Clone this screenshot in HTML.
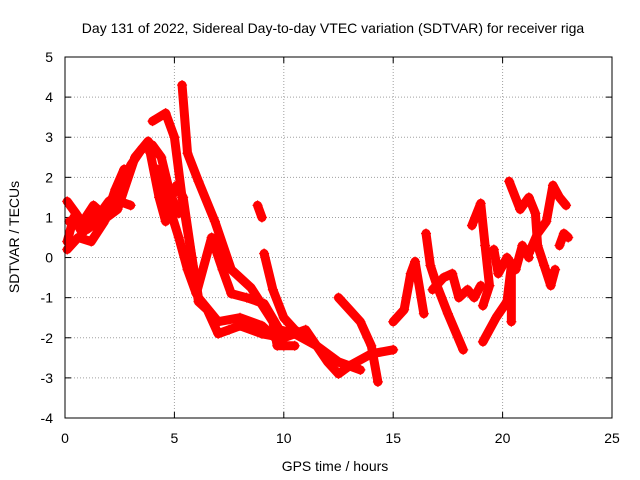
<!DOCTYPE html>
<html><head><meta charset="utf-8"><style>
body{margin:0;background:#fff;}
svg{display:block;font-family:"Liberation Sans",sans-serif;}
</style></head><body>
<svg id="chart" width="640" height="480">
<text x="333" y="33" font-size="14" text-anchor="middle">Day 131 of 2022, Sidereal Day-to-day VTEC variation (SDTVAR) for receiver riga</text>
<text x="335" y="471" font-size="14" text-anchor="middle">GPS time / hours</text>
<text transform="translate(19,237) rotate(-90)" font-size="14" text-anchor="middle">SDTVAR / TECUs</text>
<g id="grid"></g>
<g id="axes"></g>
<g id="marks"></g>
<rect x="65" y="57" width="547" height="361" fill="none" stroke="#000"/>
</svg>
<script>
const xTicks=[0,5,10,15,20,25];
const yTicks=[-4,-3,-2,-1,0,1,2,3,4,5];
const trackA=[[0.1,0.4],[0.4,1.0],[0.8,0.6],[1.2,1.0],[1.6,1.1],[2.0,1.4],[2.5,1.6],[3.0,2.3],[3.5,2.7],[4.0,2.8],[4.4,2.5],[4.8,1.6],[5.2,1.1]];
const trackA2=[[0.1,1.4],[0.5,1.1],[1.0,0.7],[1.5,0.9],[2.0,1.2],[2.5,1.4],[3.0,1.3]];
const trackA3=[[0.1,0.2],[0.6,0.5],[1.2,0.4],[1.8,0.9],[2.3,1.7],[2.7,2.2]];
const trackA4=[[0.2,0.9],[0.7,0.8],[1.3,1.3],[1.9,1.0],[2.4,1.2],[3.2,2.5],[3.8,2.9],[4.2,2.6]];
const trackB=[[4.0,3.4],[4.6,3.6],[5.0,3.0],[5.35,1.5],[5.8,0.0],[6.1,-1.1],[6.5,-1.3],[7.0,-1.9],[7.5,-1.8],[8.0,-1.7],[9.0,-1.9],[10.0,-2.0],[11.0,-1.8],[12.0,-2.6],[12.5,-2.9],[13.0,-2.7],[14.0,-2.4],[15.0,-2.3]];
const trackC=[[5.35,4.3],[5.6,2.6],[6.1,1.9],[6.85,0.9],[7.6,-0.3],[8.5,-0.75],[9.5,-1.6],[9.7,-2.2],[10.5,-2.2]];
const trackD=[[3.9,2.6],[4.3,1.5],[4.6,0.9],[4.8,1.4],[5.1,1.8],[5.4,1.5],[5.8,0.0],[6.1,-1.0],[6.4,-1.2],[7.0,-1.6],[8.0,-1.5],[9.0,-1.7],[10.0,-2.2]];
const trackD2=[[4.2,2.2],[4.8,1.2],[5.2,0.5],[5.6,-0.3],[6.0,-0.9],[6.7,0.5],[7.2,-0.3],[7.6,-0.9],[8.3,-1.0],[9.1,-1.15],[9.8,-1.8],[10.5,-1.9],[11.5,-2.2],[12.5,-2.6],[13.5,-2.8]];
const trackE=[[8.8,1.3],[9.0,1.0]];
const trackF=[[9.1,0.1],[9.5,-0.8],[10.0,-1.5],[10.5,-1.8],[11.0,-2.0]];
const trackG=[[12.5,-1.0],[13.0,-1.3],[13.5,-1.6],[14.0,-2.2],[14.3,-3.1]];
const trackH=[[15.0,-1.6],[15.5,-1.3],[15.8,-0.4],[16.0,-0.1],[16.4,-1.4]];
const trackI=[[16.5,0.6],[16.7,-0.2],[17.0,-0.7],[17.5,-1.4],[18.2,-2.3]];
const trackJ=[[16.8,-0.8],[17.3,-0.5],[17.7,-0.4],[18.0,-1.0],[18.4,-0.8],[18.7,-1.0],[19.0,-0.7]];
const trackK=[[18.6,0.8],[19.0,1.35],[19.2,0.3],[19.4,-0.7],[19.1,-1.2]];
const trackL=[[19.6,0.2],[19.8,-0.4],[20.2,0.0],[20.6,-0.3],[20.9,0.3],[21.2,0.0]];
const trackM=[[19.1,-2.1],[19.7,-1.5],[20.2,-1.1],[20.4,-0.2],[20.4,-1.6]];
const trackN=[[20.3,1.9],[20.8,1.2],[21.2,1.5],[21.5,1.1],[21.6,0.3],[21.9,-0.2],[22.2,-0.7],[22.4,-0.3]];
const trackO=[[21.2,0.1],[21.6,0.6],[22.0,0.9],[22.3,1.8],[22.6,1.5],[22.9,1.3]];
const trackP=[[22.6,0.3],[22.8,0.6],[23.0,0.5]];
const tracks=[trackA,trackA2,trackA3,trackA4,trackB,trackC,trackD,trackD2,trackE,trackF,trackG,trackH,trackI,trackJ,trackK,trackL,trackM,trackN,trackO,trackP];
const NS='http://www.w3.org/2000/svg';
const L=65,R=612,T=57,B=418;
const xs=v=>L+(v-0)/25*(R-L);
const ys=v=>B-(v+4)/9*(B-T);
function mk(tag,attrs,parent){const e=document.createElementNS(NS,tag);for(const k in attrs)e.setAttribute(k,attrs[k]);parent.appendChild(e);return e;}
const grid=document.getElementById('grid'),axes=document.getElementById('axes'),marks=document.getElementById('marks');
xTicks.forEach(t=>{const x=xs(t);
 if(t>0&&t<25){const g=mk('line',{x1:x,x2:x,y1:T,y2:B,stroke:'#a0a0a0','stroke-dasharray':'1,2'},grid);}
 mk('line',{x1:x,x2:x,y1:B,y2:B-6,stroke:'#000'},axes);mk('line',{x1:x,x2:x,y1:T,y2:T+6,stroke:'#000'},axes);
 const tx=mk('text',{x:x,y:443,'font-size':14,'text-anchor':'middle'},axes);tx.textContent=t;
 });
yTicks.forEach(t=>{const y=ys(t);
 if(t>-4&&t<5){const g=mk('line',{x1:L,x2:R,y1:y,y2:y,stroke:'#a0a0a0','stroke-dasharray':'1,2'},grid);}
 mk('line',{x1:L,x2:L+6,y1:y,y2:y,stroke:'#000'},axes);mk('line',{x1:R,x2:R-6,y1:y,y2:y,stroke:'#000'},axes);
 const tx=mk('text',{x:53,y:y+5,'font-size':14,'text-anchor':'end'},axes);tx.textContent=t;
 });
tracks.forEach(tr=>{
 const pts=tr.map(p=>xs(p[0])+','+ys(p[1])).join(' ');
 const pl=mk('polyline',{points:pts,fill:'none',stroke:'#ff0000','stroke-width':9,'stroke-linejoin':'round','stroke-linecap':'round'},marks);
 
 
 tr.forEach(p=>{const x=xs(p[0]),y=ys(p[1]);
  const m=mk('path',{d:`M${x-5},${y}h10M${x},${y-5}v10`,stroke:'#ff0000','stroke-width':1.2},marks);
  
  });
});
</script>
</body></html>
